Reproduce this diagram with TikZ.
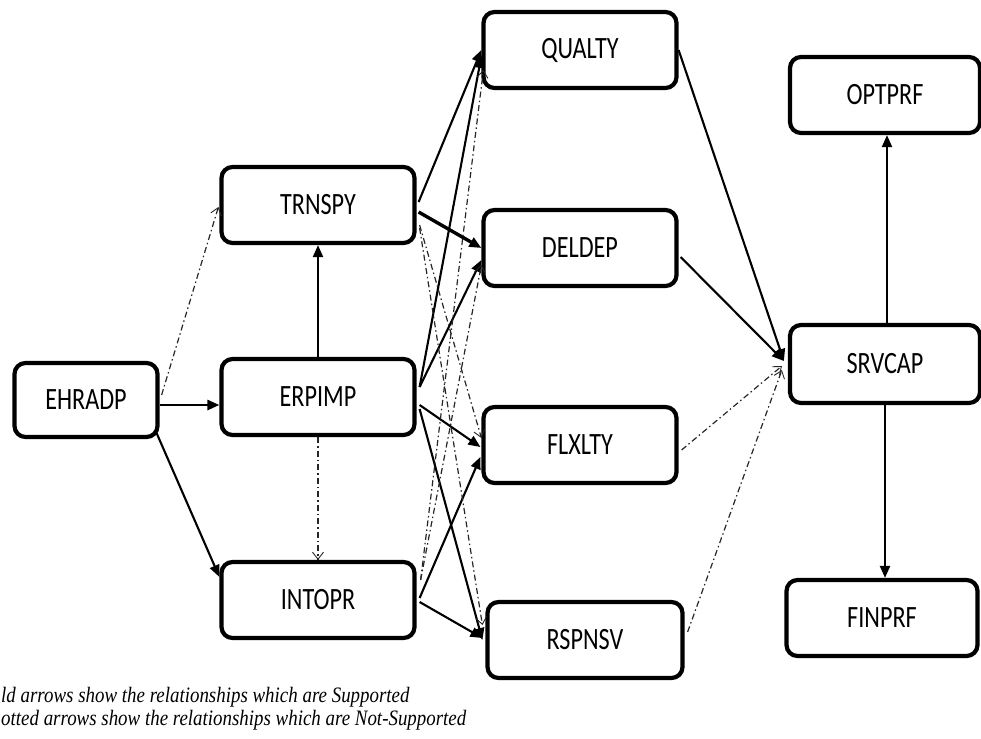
\documentclass[tikz,border=0pt]{standalone}
\usepackage{fontspec}
\usetikzlibrary{arrows.meta}
\newfontfamily\boxfont[FakeStretch=0.78]{Carlito}
\newfontfamily\notefont[FakeStretch=0.86]{Liberation Serif}
\begin{document}
\begin{tikzpicture}[x=1pt,y=-1pt,
  varbox/.style={draw=black, line width=4.2pt, rounded corners=11pt, fill=white,
    minimum width=193pt, minimum height=76pt, inner sep=0pt,
    font=\boxfont\fontsize{31}{31}\selectfont},
  supp/.style={line width=2.1pt, -{Triangle[length=12pt,width=10pt]}},
  nsupp/.style={line width=1.2pt, draw=black!85, dash pattern=on 6pt off 3pt on 1.5pt off 3pt,
    -{Straight Barb[length=7pt,width=11pt,line width=0.9pt]}},
  note/.style={font=\notefont\itshape\fontsize{22}{22}\selectfont, inner sep=0pt, anchor=base west}
]
\useasboundingbox (0,0) rectangle (981,738);

% constructs
\node[varbox, minimum width=143pt, minimum height=74pt] (EHRADP) at (86,400) {EHRADP};
\node[varbox] (TRNSPY) at (318,205) {TRNSPY};
\node[varbox] (ERPIMP) at (318,397) {ERPIMP};
\node[varbox] (INTOPR) at (318,600) {INTOPR};
\node[varbox] (QUALTY) at (580,50)  {QUALTY};
\node[varbox] (DELDEP) at (580,248) {DELDEP};
\node[varbox] (FLXLTY) at (580,445) {FLXLTY};
\node[varbox, minimum width=195pt] (RSPNSV) at (585,640) {RSPNSV};
\node[varbox, minimum width=190pt] (OPTPRF) at (885,95)  {OPTPRF};
\node[varbox, minimum width=190pt, minimum height=78pt] (SRVCAP) at (885,364) {SRVCAP};
\node[varbox, minimum width=191pt] (FINPRF) at (882,618) {FINPRF};

% supported paths
\draw[supp, line width=2.6pt] ([shift={(0,5)}]EHRADP.east) -- ([shift={(0,8)}]ERPIMP.west);
\draw[supp] ([shift={(-3,-6)}]EHRADP.south east) -- ([shift={(0,-23)}]INTOPR.west);
\draw[supp] (ERPIMP.north) -- (TRNSPY.south);
\draw[supp] ([shift={(2,-3)}]TRNSPY.east) -- ([shift={(0,0)}]QUALTY.west);
\draw[supp, line width=3.4pt] ([shift={(2,7)}]TRNSPY.east) -- (DELDEP.west);
\draw[supp] ([shift={(3,-10)}]ERPIMP.east) -- ([shift={(0,6)}]QUALTY.west);
\draw[supp] ([shift={(3,-10)}]ERPIMP.east) -- ([shift={(0,12)}]DELDEP.west);
\draw[supp] ([shift={(3,8)}]ERPIMP.east) -- ([shift={(-1,2)}]FLXLTY.west);
\draw[supp] ([shift={(3,12)}]ERPIMP.east) -- ([shift={(-3,0)}]RSPNSV.west);
\draw[supp] ([shift={(3,-2)}]INTOPR.east) -- ([shift={(-1,12)}]FLXLTY.west);
\draw[supp] ([shift={(3,2)}]INTOPR.east) -- ([shift={(-3,-2)}]RSPNSV.west);
\draw[supp] (QUALTY.east) -- ([shift={(-4,-3)}]SRVCAP.west);
\draw[supp] ([shift={(2,9)}]DELDEP.east) -- ([shift={(-4,-3)}]SRVCAP.west);
\draw[supp] ([shift={(2,0)}]SRVCAP.north) -- ([shift={(2,0)}]OPTPRF.south);
\draw[supp] (SRVCAP.south) -- ([shift={(3,0)}]FINPRF.north);

% paths that are not supported
\draw[nsupp] ([shift={(2,-5)}]EHRADP.east) -- ([shift={(-1,2)}]TRNSPY.west);
\draw[nsupp] (ERPIMP.south) -- (INTOPR.north);
\draw[nsupp] ([shift={(3,20)}]TRNSPY.east) -- ([shift={(0,-7)}]FLXLTY.west);
\draw[nsupp] ([shift={(3,23)}]TRNSPY.east) -- ([shift={(-3,-15)}]RSPNSV.west);
\draw[nsupp] ([shift={(4,-20)}]INTOPR.east) -- ([shift={(2,20)}]QUALTY.west);
\draw[nsupp] ([shift={(4,-20)}]INTOPR.east) -- ([shift={(0,17)}]DELDEP.west);
\draw[nsupp] ([shift={(3,5)}]FLXLTY.east) -- ([shift={(-6,2)}]SRVCAP.west);
\draw[nsupp] ([shift={(3,-8)}]RSPNSV.east) -- ([shift={(-6,6)}]SRVCAP.west);

% key
\node[note] (keyA) at (1,702) {ld arrows show the relationships which are Supported};
\node[note] (keyB) at (1,725) {otted arrows show the relationships which are Not-Supported};
\end{tikzpicture}
\end{document}
